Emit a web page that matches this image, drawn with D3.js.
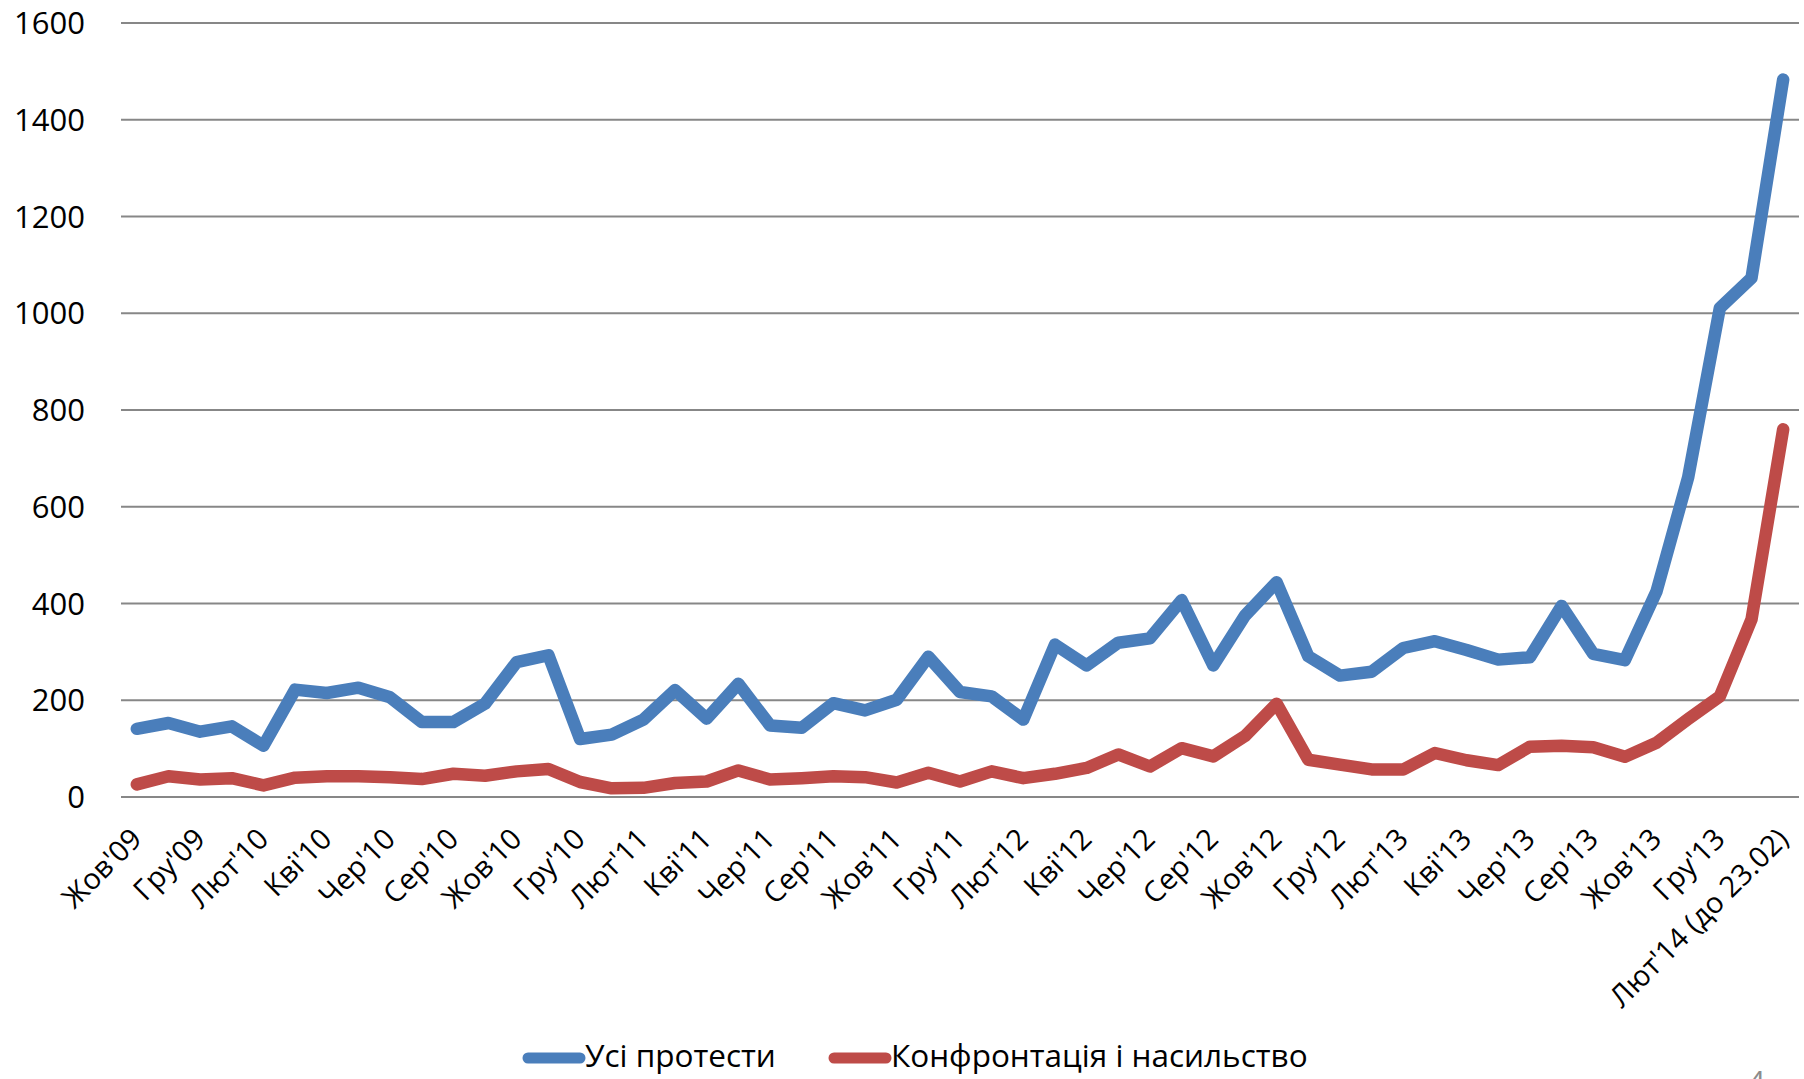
<!DOCTYPE html>
<html>
<head>
<meta charset="utf-8">
<script src="https://cdn.jsdelivr.net/npm/d3@7"></script>
<style>
  body { margin: 0; background: #fff; }
  svg text { font-family: "Open Sans", "Liberation Sans", sans-serif; fill: #000; }
</style>
</head>
<body>
<script>
// categories (one per month), only every second is labelled
const months = ["Жов'09","Лис'09","Гру'09","Січ'10","Лют'10","Бер'10","Кві'10","Тра'10","Чер'10","Лип'10",
  "Сер'10","Вер'10","Жов'10","Лис'10","Гру'10","Січ'11","Лют'11","Бер'11","Кві'11","Тра'11",
  "Чер'11","Лип'11","Сер'11","Вер'11","Жов'11","Лис'11","Гру'11","Січ'12","Лют'12","Бер'12",
  "Кві'12","Тра'12","Чер'12","Лип'12","Сер'12","Вер'12","Жов'12","Лис'12","Гру'12","Січ'13",
  "Лют'13","Бер'13","Кві'13","Тра'13","Чер'13","Лип'13","Сер'13","Вер'13","Жов'13","Лис'13",
  "Гру'13","Січ'14","Лют'14 (до 23.02)"]

const allProtests = [141,153,135,146,106,222,215,226,206,155,155,193,279,293,120,
  129,160,221,162,234,148,143,194,179,201,290,217,208,160,315,
  272,319,328,407,272,375,444,291,251,259,308,322,304,284,289,395,
  296,283,425,661,1011,1073,1483]

const violence = [26,43,36,39,24,40,43,43,41,37,48,44,53,58,31,
  18,19,29,32,55,36,39,43,41,30,50,32,53,39,48,
  60,88,63,101,84,126,193,77,67,57,57,91,76,66,104,106,
  103,83,112,161,208,367,760]

const yTicks = [0,200,400,600,800,1000,1200,1400,1600]
const seriesNames = ["Усі протести", "Конфронтація і насильство"]
const colors = ["#4a7ebb", "#be4b48"]

const width = 1804, height = 1079
const plot = {left: 121, right: 1799, top: 23, bottom: 797}

const svg = d3.select('body').append('svg')
    .attr('width', width)
    .attr('height', height)

const x = d3.scalePoint()
    .domain(months)
    .range([plot.left, plot.right])
    .padding(0.5)

const y = d3.scaleLinear()
    .domain([0, 1600])
    .range([plot.bottom, plot.top])

// gridlines
svg.append('g')
    .selectAll('line')
    .data(yTicks)
    .join('line')
    .attr('x1', plot.left).attr('x2', plot.right)
    .attr('y1', d => y(d)).attr('y2', d => y(d))
    .attr('stroke', '#878787')
    .attr('stroke-width', 2)

// y axis labels
svg.append('g')
    .selectAll('text')
    .data(yTicks)
    .join('text')
    .attr('x', 85)
    .attr('y', d => y(d))
    .attr('dy', '0.36em')
    .attr('text-anchor', 'end')
    .style('font-size', '31px')
    .text(d => d)

// x axis labels, rotated
svg.append('g')
    .selectAll('text')
    .data(months.filter((m, i) => i % 2 == 0))
    .join('text')
    .attr('text-anchor', 'end')
    .attr('transform', d => 'translate(' + (x(d) - 8) + ',826) rotate(-45)')
    .attr('dy', '0.72em')
    .style('font-size', '29px')
    .text(d => d)

// lines
const line = d3.line()
    .x((d, i) => x(months[i]))
    .y(d => y(d))

;[allProtests, violence].forEach((s, k) => {
    svg.append('path')
        .datum(s)
        .attr('d', line)
        .attr('fill', 'none')
        .attr('stroke', colors[k])
        .attr('stroke-width', 12.5)
        .attr('stroke-linejoin', 'round')
        .attr('stroke-linecap', 'round')
})

// legend
const legendX = [523, 829]
const legendY = 1056
seriesNames.forEach((name, k) => {
    svg.append('line')
        .attr('x1', legendX[k] + 5).attr('x2', legendX[k] + 57)
        .attr('y1', legendY + 2).attr('y2', legendY + 2)
        .attr('stroke', colors[k])
        .attr('stroke-width', 11)
        .attr('stroke-linecap', 'round')
    svg.append('text')
        .attr('x', legendX[k] + 62)
        .attr('y', legendY)
        .attr('dy', '0.36em')
        .style('font-size', '31.5px')
        .text(name)
})

// slide number, cut off at the bottom
svg.append('text')
    .attr('x', 1748).attr('y', 1092)
    .style('font-size', '30px')
    .style('fill', '#8c8c8c')
    .text('4')
</script>
</body>
</html>
